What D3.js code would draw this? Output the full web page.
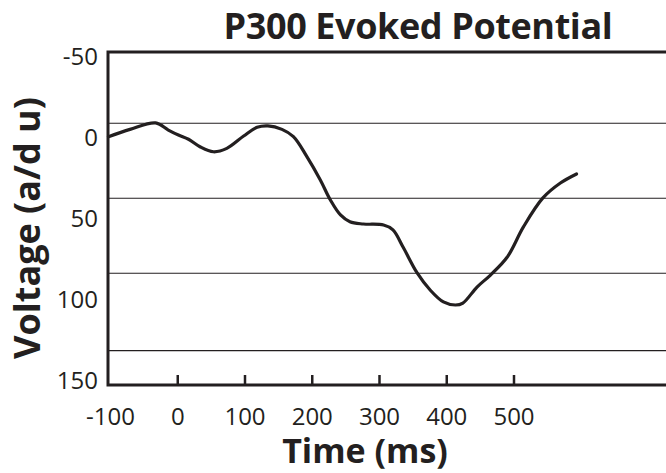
<!DOCTYPE html>
<html>
<head>
<meta charset="utf-8">
<script src="https://cdn.jsdelivr.net/npm/d3@7"></script>
<style>
  body { margin: 0; background: #fff; }
  text { font-family: "Open Sans", sans-serif; fill: #231f20; }
</style>
</head>
<body>
<svg id="chart" width="666" height="473"></svg>
<script>
// time (ms) and voltage (a/d u)
var timeMs = [-103, -71, -33, -14, 1, 16, 33, 53, 73, 98, 118, 134, 155, 172, 192, 212, 227, 242, 256, 276, 306, 320, 335, 356, 375, 395, 413, 424, 445, 465, 490, 514, 543, 569, 593];
var voltage = [-0.5, -5, -9, -4.6, -1.5, 1.1, 5.7, 8.8, 6.7, -0.9, -6.3, -7.2, -5, -0.5, 11.8, 26.2, 38.6, 47.8, 52, 53.4, 54, 57, 67.6, 83.6, 94, 101.5, 103.4, 102.2, 92.3, 84.9, 73.8, 55.2, 37.3, 28.1, 22.5];

var xTicks = [-100, 0, 100, 200, 300, 400, 500];
var yTicks = [-50, 0, 50, 100, 150];
var gridValues = [-8.8, 37.5, 83.8, 131.6];

var titleText = "P300 Evoked Potential";
var xLabel = "Time (ms)";
var yLabel = "Voltage (a/d u)";

//////////////////////////////////////////////////////////////////////////////

var ink = "#231f20";
var svg = d3.select("#chart");

var plot = { left: 108, right: 666, top: 52, bottom: 385 };

var xScale = d3.scaleLinear()
  .domain([-100, 500])
  .range([110.5, 514]);

var yScale = d3.scaleLinear()
  .domain([-50, 150])
  .range([56.5, 380.5]);

var points = timeMs.map(function(t, i) {
  return { t: t, v: voltage[i] };
});

// horizontal guide lines
svg.selectAll(".grid")
  .data(gridValues)
  .enter()
  .append("line")
  .attr("class", "grid")
  .attr("x1", plot.left)
  .attr("x2", plot.right)
  .attr("y1", function(d) { return yScale(d); })
  .attr("y2", function(d) { return yScale(d); })
  .attr("stroke", ink)
  .attr("stroke-width", 1.2);

// the trace
var line = d3.line()
  .x(function(d) { return xScale(d.t); })
  .y(function(d) { return yScale(d.v); })
  .curve(d3.curveCatmullRom.alpha(0.5));

svg.append("path")
  .datum(points)
  .attr("d", line)
  .attr("fill", "none")
  .attr("stroke", ink)
  .attr("stroke-width", 3.2)
  .attr("stroke-linecap", "round");

// frame: top, left and bottom
svg.append("path")
  .attr("d", "M" + plot.right + "," + plot.top + "H" + plot.left + "V" + plot.bottom + "H" + plot.right)
  .attr("fill", "none")
  .attr("stroke", ink)
  .attr("stroke-width", 3);

// tick marks on the bottom axis (none at -100, the y axis sits there)
svg.selectAll(".xtick")
  .data(xTicks.filter(function(d) { return d > -100; }))
  .enter()
  .append("line")
  .attr("class", "xtick")
  .attr("x1", function(d) { return xScale(d); })
  .attr("x2", function(d) { return xScale(d); })
  .attr("y1", plot.bottom)
  .attr("y2", plot.bottom - 10)
  .attr("stroke", ink)
  .attr("stroke-width", 2.5);

svg.selectAll(".xlab")
  .data(xTicks)
  .enter()
  .append("text")
  .attr("class", "xlab")
  .attr("x", function(d) { return xScale(d); })
  .attr("y", 425)
  .style("text-anchor", "middle")
  .style("font-size", "24px")
  .text(function(d) { return d; });

svg.selectAll(".ylab")
  .data(yTicks)
  .enter()
  .append("text")
  .attr("class", "ylab")
  .attr("x", 98)
  .attr("y", function(d) { return yScale(d); })
  .attr("dy", "0.36em")
  .style("text-anchor", "end")
  .style("font-size", "24px")
  .text(function(d) { return d; });

// title
svg.append("text")
  .attr("x", 418)
  .attr("y", 39)
  .style("text-anchor", "middle")
  .style("font-size", "36px")
  .style("font-weight", "bold")
  .style("letter-spacing", "-0.4px")
  .text(titleText);

// text label for the x axis
svg.append("text")
  .attr("x", 365)
  .attr("y", 463)
  .style("text-anchor", "middle")
  .style("font-size", "34px")
  .style("font-weight", "bold")
  .text(xLabel);

// text label for the y axis
svg.append("text")
  .attr("transform", "translate(40,228) rotate(-90)")
  .style("text-anchor", "middle")
  .style("font-size", "36px")
  .style("font-weight", "bold")
  .text(yLabel);
</script>
</body>
</html>
